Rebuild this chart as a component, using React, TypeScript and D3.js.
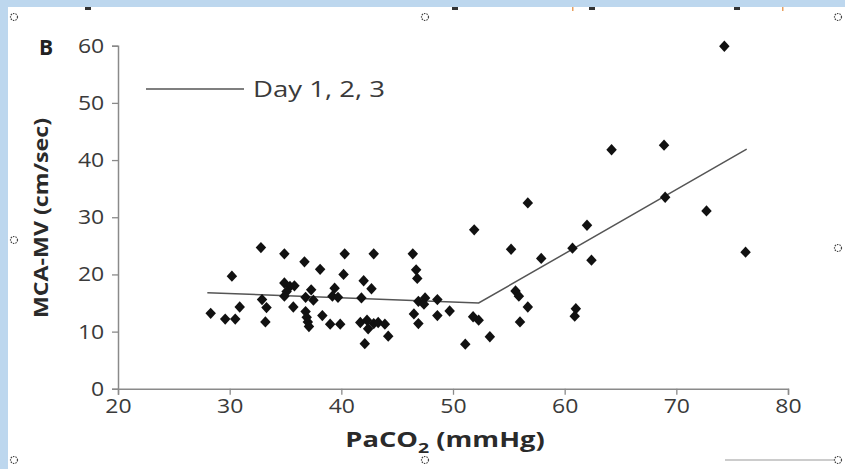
import { useEffect, useRef } from 'react';
import * as d3 from 'd3';

// PaCO2 (mmHg) vs MCA-MV (cm/sec)
const paco2 = [
  28.3, 29.6, 30.5, 30.2, 30.9, 32.8, 32.9, 33.3, 33.2, 34.9,
  34.9, 35.4, 35.1, 34.9, 35.7, 35.8, 36.7, 37.3, 36.8, 36.8,
  36.9, 37.0, 37.1, 38.1, 38.3, 39.0, 39.9, 39.4, 39.2, 39.7,
  40.3, 40.2, 42.0, 41.8, 42.7, 42.9, 41.7, 42.3, 42.9, 42.4,
  43.3, 43.9, 44.2, 42.1, 37.5, 46.4, 46.7, 46.8, 46.9, 47.5,
  47.4, 46.5, 46.9, 48.6, 48.6, 49.7, 51.1, 51.9, 51.8, 52.3,
  53.3, 55.2, 55.6, 55.9, 56.7, 56.0, 56.7, 57.9, 60.7, 61.0,
  60.9, 62.0, 62.4, 64.2, 68.9, 69.0, 72.7, 74.3, 76.2,
];
const mcaMv = [
  13.2, 12.2, 12.2, 19.7, 14.3, 24.7, 15.6, 14.2, 11.7, 23.6,
  18.5, 17.9, 17.0, 16.2, 14.3, 18.0, 22.2, 17.3, 16.0, 13.5,
  12.5, 11.7, 10.9, 20.9, 12.8, 11.3, 11.3, 17.6, 16.2, 16.0,
  23.6, 20.0, 18.9, 15.9, 17.5, 23.6, 11.6, 12.0, 11.4, 10.5,
  11.6, 11.3, 9.2, 7.9, 15.5, 23.6, 20.8, 19.3, 15.3, 15.9,
  14.8, 13.1, 11.4, 15.6, 12.8, 13.6, 7.8, 27.8, 12.6, 12.0,
  9.1, 24.4, 17.1, 16.2, 14.3, 11.7, 32.5, 22.8, 24.6, 14.0,
  12.7, 28.6, 22.5, 41.8, 42.6, 33.5, 31.1, 59.9, 23.9,
];

// piecewise trend line "Day 1, 2, 3"
const trendX = [28.0, 52.3, 76.3];
const trendY = [16.8, 15.0, 41.9];

const xTicks = [20, 30, 40, 50, 60, 70, 80];
const yTicks = [0, 10, 20, 30, 40, 50, 60];

const W = 845;
const H = 469;

export default function App() {
  const svgRef = useRef<SVGSVGElement>(null);

  useEffect(() => {
    if (!svgRef.current) return;
    const svg = d3.select(svgRef.current);
    svg.selectAll('*').remove();

    const font = '"Open Sans", "DejaVu Sans", sans-serif';
    const left = 118, right = 788, top = 45.7, bottom = 388.8;

    const x = d3.scaleLinear().domain([20, 80]).range([left, right]);
    const y = d3.scaleLinear().domain([0, 60]).range([bottom, top]);

    // page background + blue frame
    svg.append('rect').attr('width', W).attr('height', H).attr('fill', '#fff');
    svg.append('rect').attr('width', W).attr('height', 7).attr('fill', '#bdd7ee');
    svg.append('rect').attr('width', 8).attr('height', H).attr('fill', '#bdd7ee');

    // bits of the figure above, cut off at the top
    [88, 455, 592, 737].forEach(px => {
      svg.append('rect').attr('x', px - 3).attr('y', 7).attr('width', 6).attr('height', 3).attr('fill', '#333');
    });
    [572, 782].forEach(px => {
      svg.append('rect').attr('x', px).attr('y', 7).attr('width', 1.5).attr('height', 4).attr('fill', '#e8a060');
    });

    // y axis
    const gy = svg.append('g')
      .attr('transform', `translate(${left},0)`)
      .call(d3.axisLeft(y).tickValues(yTicks).tickSize(6).tickPadding(8));
    gy.select('.domain').attr('stroke', '#8a8a8a').attr('stroke-width', 1.5);
    gy.selectAll('.tick line').attr('stroke', '#8a8a8a').attr('stroke-width', 1.3);
    gy.selectAll('.tick text')
      .attr('transform', 'scale(1.15,1)')
      .attr('x', -12)
      .style('font-family', font)
      .style('font-size', '20px')
      .attr('fill', '#3a3a3a');

    // x axis
    const gx = svg.append('g')
      .attr('transform', `translate(0,${bottom})`)
      .call(d3.axisBottom(x).tickValues(xTicks).tickSize(6).tickPadding(4));
    gx.select('.domain').attr('stroke', '#8a8a8a').attr('stroke-width', 1.5);
    gx.selectAll('.tick line').attr('stroke', '#8a8a8a').attr('stroke-width', 1.3);
    gx.selectAll('.tick text')
      .attr('transform', 'scale(1.15,1)')
      .style('font-family', font)
      .style('font-size', '20px')
      .attr('fill', '#3a3a3a');

    // trend line
    const line = d3.line<number>().x((d, i) => x(trendX[i])).y(d => y(d));
    svg.append('path')
      .attr('d', line(trendY))
      .attr('fill', 'none')
      .attr('stroke', '#555')
      .attr('stroke-width', 1.5);

    // points
    const diamond = d3.symbol().type(d3.symbolDiamond2).size(70);
    svg.append('g')
      .selectAll('path')
      .data(paco2)
      .enter()
      .append('path')
      .attr('d', diamond)
      .attr('transform', (d, i) => `translate(${x(d)},${y(mcaMv[i])}) scale(1,1.08)`)
      .attr('fill', '#111');

    // legend
    svg.append('line')
      .attr('x1', 146).attr('x2', 244).attr('y1', 89).attr('y2', 89)
      .attr('stroke', '#555').attr('stroke-width', 1.5);
    svg.append('text')
      .attr('x', 253).attr('y', 97)
      .attr('textLength', 132).attr('lengthAdjust', 'spacingAndGlyphs')
      .style('font-family', font).style('font-size', '21px')
      .attr('fill', '#3a3a3a')
      .text('Day 1, 2, 3');

    // panel letter
    svg.append('text')
      .attr('x', 39).attr('y', 55)
      .style('font-family', font).style('font-size', '21px').style('font-weight', 'bold')
      .attr('fill', '#222')
      .text('B');

    // y title
    svg.append('text')
      .attr('transform', 'translate(48,218) rotate(-90)')
      .attr('text-anchor', 'middle')
      .attr('textLength', 200).attr('lengthAdjust', 'spacingAndGlyphs')
      .style('font-family', font).style('font-size', '20px').style('font-weight', 'bold')
      .attr('fill', '#2a2a2a')
      .text('MCA-MV (cm/sec)');

    // x title with subscript
    const xt = svg.append('text')
      .attr('transform', 'translate(445,447) scale(1.3,1)')
      .attr('text-anchor', 'middle')
      .style('font-family', font).style('font-size', '21px').style('font-weight', 'bold')
      .attr('fill', '#2a2a2a');
    xt.append('tspan').text('PaCO');
    xt.append('tspan').attr('dy', 6).style('font-size', '15px').text('2');
    xt.append('tspan').attr('dy', -6).text(' (mmHg)');

    // selection handles
    svg.append('line')
      .attr('x1', 725).attr('x2', 836).attr('y1', 460).attr('y2', 460)
      .attr('stroke', '#bbb').attr('stroke-width', 1.5);
    const handles: [number, number][] = [
      [14, 17], [425, 17], [838, 17],
      [14, 240], [838, 248],
      [14, 460], [425, 460], [838, 460],
    ];
    handles.forEach(([hx, hy]) => {
      svg.append('circle')
        .attr('cx', hx).attr('cy', hy).attr('r', 3.5)
        .attr('fill', '#fff').attr('stroke', '#444')
        .attr('stroke-width', 1.2).attr('stroke-dasharray', '1.5 1');
    });
  }, []);

  return (
    <div style={{ position: 'absolute', left: 0, top: 0 }}>
      <svg ref={svgRef} width={W} height={H} style={{ display: 'block' }}></svg>
    </div>
  );
}
